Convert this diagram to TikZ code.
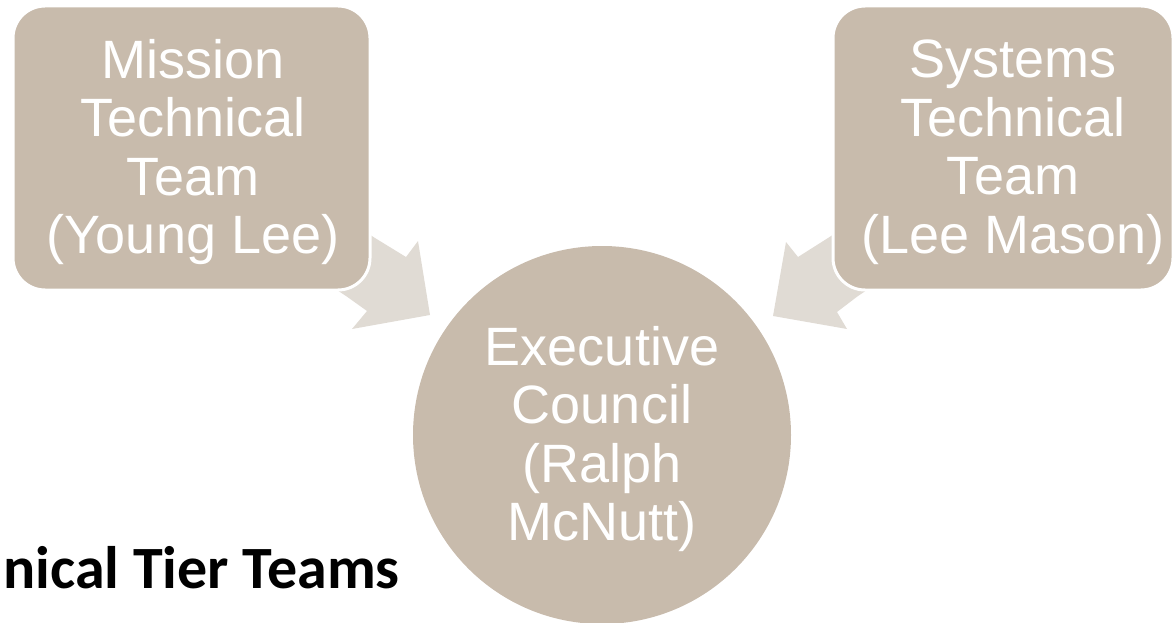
\documentclass[tikz,border=0pt]{standalone}
\usepackage{fontspec}
\setmainfont{Liberation Sans}
\newfontfamily\titlefont{Carlito}
\definecolor{boxfill}{HTML}{C8BBAC}
\definecolor{arrowfill}{HTML}{E0DBD4}
\begin{document}
\begin{tikzpicture}[x=1pt,y=-1pt,
  teambox/.style={draw=white, line width=3pt, fill=boxfill, rounded corners=32pt},
  blockarrow/.style={fill=arrowfill, draw=none},
  label/.style={text=white, align=center, inner sep=0pt,
    font=\fontsize{54}{58.5}\selectfont}]
\useasboundingbox (0,0) rectangle (1176,623);

% block arrows pointing from the teams to the council
\fill[blockarrow] (325,205) -- (375,238) -- (406,257) -- (418,241) -- (430,315)
  -- (352,329) -- (367,311) -- (346,296) -- (296,263) -- cycle;
\fill[blockarrow] (878,205) -- (828,238) -- (798,257) -- (786,242) -- (773,316)
  -- (847,329) -- (837,312) -- (858,296) -- (908,263) -- cycle;

% team boxes and the council circle
\draw[teambox] (13,6) rectangle (370,290);
\draw[teambox] (833,6) rectangle (1173,290);
\fill[boxfill] (602,435) circle (189);

\node[label] (mission) at (193,152) {Mission\\Technical\\Team\\(Young Lee)};
\node[label] (systems) at (1013,152) {Systems\\Technical\\Team\\(Lee Mason)};
\node[label] (council) at (602,439) {Executive\\Council\\(Ralph\\McNutt)};

\node[anchor=base east, inner sep=0pt, font=\titlefont\bfseries\fontsize{60}{64}\selectfont]
  (title) at (400,588) {nical Tier Teams};
\end{tikzpicture}
\end{document}
